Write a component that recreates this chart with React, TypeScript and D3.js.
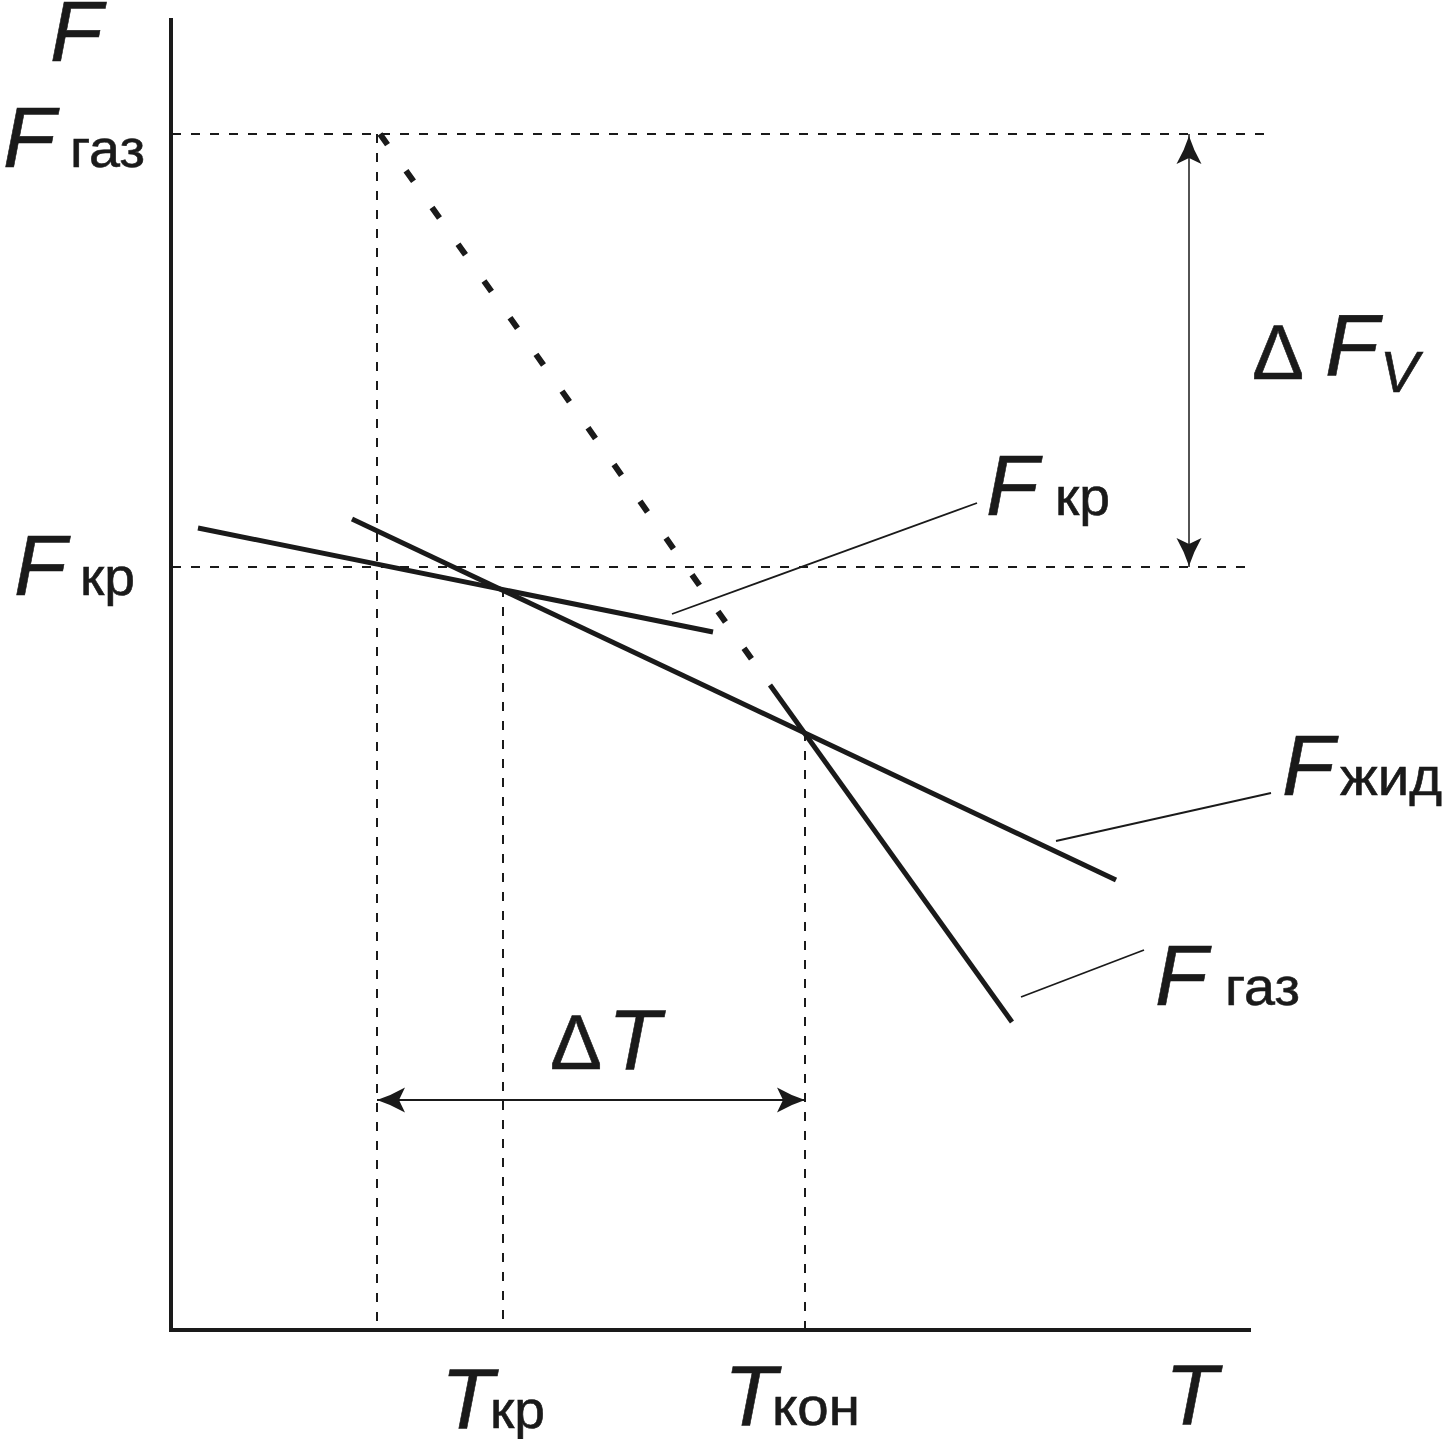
import React from 'react';
import * as d3 from 'd3';

const W = 1443;
const H = 1439;

// Diagram units (schematic): temperature T and free energy F
const axisT = [0, 10.8];
const axisF = [0, 13.12];

// horizontal reference levels
const levelF = [11.96, 7.63]; // F газ, F кр
const levelEndT = [10.94, 10.84];

// vertical reference temperatures (start of ΔT, T кр, T кон)
const tempT = [2.06, 3.32, 6.34];
const tempTopF = [11.96, 7.42, 5.98];

// F кр line (shallow)
const krT = [0.27, 5.42];
const krF = [8.02, 6.98];
// F жид line
const zhT = [1.81, 9.45];
const zhF = [8.11, 4.5];
// F газ line: dashed (extrapolated) part and solid part
const gasDashT = [2.09, 5.99];
const gasDashF = [11.96, 6.45];
const gasSolidT = [5.99, 8.41];
const gasSolidF = [6.45, 3.08];

// leader lines to labels
const leaderT = [
  [5.01, 8.06],
  [8.85, 11.0],
  [8.5, 9.73],
];
const leaderF = [
  [7.16, 8.27],
  [4.89, 5.37],
  [3.33, 3.8],
];

// dimension arrows
const dFvT = 10.18;
const dFvF = [11.96, 7.63];
const dTF = 2.3;
const dTT = [2.06, 6.34];

const FONT = '"Liberation Sans", Arial, Helvetica, sans-serif';

const x = d3.scaleLinear().domain(axisT).range([171, 1251]);
const y = d3.scaleLinear().domain(axisF).range([1330, 18]);

const line = d3
  .line<[number, number]>()
  .x((d) => x(d[0]))
  .y((d) => y(d[1]));

const pts = (ts: number[], fs: number[]): [number, number][] =>
  ts.map((t, i) => [t, fs[i]] as [number, number]);

function ArrowHead({ px, py, angle }: { px: number; py: number; angle: number }) {
  return (
    <path
      d="M0,0 Q-14,-4.5 -28,-12.5 L-22,0 L-28,12.5 Q-14,4.5 0,0 Z"
      fill="#1a1a1a"
      transform={`translate(${px},${py}) rotate(${angle})`}
    />
  );
}

function Sub({ x: tx, y: ty, w, children }: { x: number; y: number; w: number; children: string }) {
  return (
    <text x={tx} y={ty} fontSize={53} textLength={w} lengthAdjust="spacingAndGlyphs">
      {children}
    </text>
  );
}

export default function App() {
  const dashThin = '9 10';
  const ink = '#1a1a1a';
  return (
    <div style={{ position: 'absolute', left: 0, top: 0 }}>
      <svg width={W} height={H} style={{ display: 'block', background: '#fff' }} fontFamily={FONT}>
        <rect width={W} height={H} fill="#fff" />
        {/* horizontal dashed levels */}
        {levelF.map((f, i) => (
          <path
            key={'lv' + i}
            d={line([
              [0.01, f],
              [levelEndT[i], f],
            ])!}
            stroke={ink}
            strokeWidth={2}
            strokeDasharray={dashThin}
            fill="none"
          />
        ))}
        {/* vertical dashed temperatures */}
        {tempT.map((t, i) => (
          <path
            key={'tv' + i}
            d={line([
              [t, tempTopF[i]],
              [t, 0],
            ])!}
            stroke={ink}
            strokeWidth={2}
            strokeDasharray={dashThin}
            fill="none"
          />
        ))}
        {/* axes */}
        <path d={line([[0, axisF[1]], [0, 0], [axisT[1], 0]])!} stroke={ink} strokeWidth={4} fill="none" />

        {/* F gas dashed extrapolation */}
        <path
          d={line(pts(gasDashT, gasDashF))!}
          stroke={ink}
          strokeWidth={6}
          strokeDasharray="13 32"
          fill="none"
        />
        {/* F gas solid */}
        <path d={line(pts(gasSolidT, gasSolidF))!} stroke={ink} strokeWidth={5} fill="none" />
        {/* F жид */}
        <path d={line(pts(zhT, zhF))!} stroke={ink} strokeWidth={5} fill="none" />
        {/* F кр */}
        <path d={line(pts(krT, krF))!} stroke={ink} strokeWidth={5} fill="none" />

        {/* leaders */}
        {leaderT.map((ts, i) => (
          <path key={'ld' + i} d={line(pts(ts, leaderF[i]))!} stroke={ink} strokeWidth={1.8} fill="none" />
        ))}

        {/* ΔF_V arrow */}
        <path
          d={line([
            [dFvT, dFvF[0]],
            [dFvT, dFvF[1]],
          ])!}
          stroke={ink}
          strokeWidth={1.5}
          fill="none"
        />
        <ArrowHead px={x(dFvT)} py={y(dFvF[0]) + 2} angle={-90} />
        <ArrowHead px={x(dFvT)} py={y(dFvF[1]) - 1} angle={90} />

        {/* ΔT arrow */}
        <path
          d={line([
            [dTT[0], dTF],
            [dTT[1], dTF],
          ])!}
          stroke={ink}
          strokeWidth={1.8}
          fill="none"
        />
        <ArrowHead px={x(dTT[0])} py={y(dTF)} angle={180} />
        <ArrowHead px={x(dTT[1])} py={y(dTF)} angle={0} />

        {/* labels */}
        <g fill={ink} stroke={ink} strokeWidth={0.6}>
          <text x={50} y={61} fontSize={86} fontStyle="italic">F</text>

          <text x={3} y={167} fontSize={86} fontStyle="italic">F</text>
          <Sub x={70} y={167} w={75}>газ</Sub>

          <text x={14} y={595} fontSize={86} fontStyle="italic">F</text>
          <Sub x={80} y={595} w={55}>кр</Sub>

          <text x={1252} y={379} fontSize={78}>Δ</text>
          <text x={1325} y={375} fontSize={88} fontStyle="italic">F</text>
          <text x={1380} y={392} fontSize={58} fontStyle="italic">V</text>

          <text x={986} y={515} fontSize={86} fontStyle="italic">F</text>
          <Sub x={1055} y={515} w={55}>кр</Sub>

          <text x={1282} y={795} fontSize={86} fontStyle="italic">F</text>
          <Sub x={1340} y={795} w={102}>жид</Sub>

          <text x={1155} y={1005} fontSize={86} fontStyle="italic">F</text>
          <Sub x={1225} y={1005} w={75}>газ</Sub>

          <text x={550} y={1069} fontSize={78}>Δ</text>
          <text x={608} y={1069} fontSize={86} fontStyle="italic">T</text>

          <text x={441} y={1428} fontSize={86} fontStyle="italic">T</text>
          <Sub x={490} y={1428} w={55}>кр</Sub>

          <text x={724} y={1425} fontSize={86} fontStyle="italic">T</text>
          <Sub x={772} y={1425} w={88}>кон</Sub>

          <text x={1165} y={1424} fontSize={86} fontStyle="italic">T</text>
        </g>
      </svg>
    </div>
  );
}
